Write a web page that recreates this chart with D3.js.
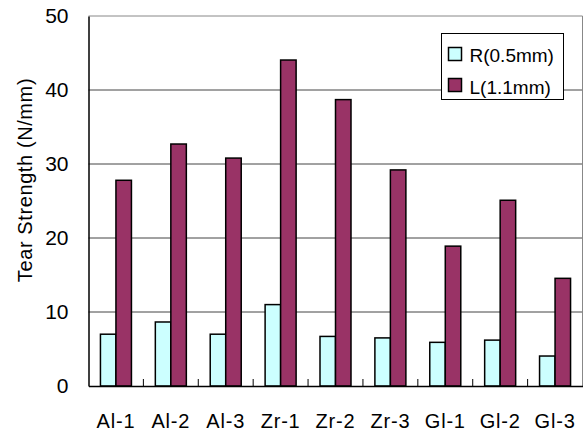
<!DOCTYPE html>
<html><head><meta charset="utf-8">
<script src="https://cdn.jsdelivr.net/npm/d3@7"></script>
<style>body{margin:0;background:#fff}svg{display:block}</style>
</head><body>
<script>
const categories = ["Al-1","Al-2","Al-3","Zr-1","Zr-2","Zr-3","Gl-1","Gl-2","Gl-3"];
const seriesNames = ["R(0.5mm)","L(1.1mm)"];
const valuesR = [7.0, 8.65, 7.0, 11.0, 6.7, 6.5, 5.9, 6.2, 4.05];
const valuesL = [27.8, 32.7, 30.8, 44.05, 38.7, 29.2, 18.9, 25.1, 14.55];
const yTicks = [0,10,20,30,40,50];
const colors = ["#CCFFFF","#993366"];

const W=586,H=433;
const m={left:88.5,top:16,right:3.5,bottom:47};
const svg=d3.select("body").append("svg").attr("width",W).attr("height",H);
const font="Liberation Sans, Arial, sans-serif";
const x=d3.scaleBand().domain(categories).range([m.left,W-m.right]);
const y=d3.scaleLinear().domain([0,50]).range([H-m.bottom,m.top]);

// gridlines
svg.append("g").selectAll("line").data(yTicks.filter(d=>d>0)).join("line")
  .attr("x1",m.left).attr("x2",W-m.right).attr("y1",d=>y(d)).attr("y2",d=>y(d))
  .attr("stroke",d=>d===50?"#888":"#444").attr("stroke-width",1);
// right border
svg.append("line").attr("x1",W-m.right).attr("x2",W-m.right).attr("y1",m.top).attr("y2",y(0))
  .attr("stroke","#888");

// bars
const bw=15.5;
const data=categories.map((c,i)=>({c,v:[valuesR[i],valuesL[i]]}));
const g=svg.append("g");
data.forEach(d=>{
  const cx=x(d.c)+x.bandwidth()/2;
  d.v.forEach((v,j)=>{
    g.append("rect").attr("x",cx-bw+j*bw).attr("y",y(v)).attr("width",bw).attr("height",y(0)-y(v))
      .attr("fill",colors[j]).attr("stroke","#000").attr("stroke-width",1.5);
  });
});

// axes
const yAxis=d3.axisLeft(y).tickValues(yTicks).tickSize(0).tickPadding(20);
const ya=svg.append("g").attr("transform",`translate(${m.left},0)`).call(yAxis);
ya.select(".domain").attr("stroke","#000").attr("stroke-width",1.5);
ya.selectAll("text").attr("font-family",font).attr("font-size",21).attr("fill","#000");

const xAxis=d3.axisBottom(x).tickSize(0).tickPadding(28);
const xa=svg.append("g").attr("transform",`translate(0,${y(0)})`).call(xAxis);
xa.select(".domain").attr("stroke","#000").attr("stroke-width",1.5);
xa.selectAll("text").attr("font-family",font).attr("font-size",20).attr("fill","#000")
  .attr("letter-spacing","0.8px");
// inward ticks at band boundaries
svg.append("g").selectAll("line").data(categories.slice(1)).join("line")
  .attr("x1",d=>x(d)).attr("x2",d=>x(d)).attr("y1",y(0)).attr("y2",y(0)-7)
  .attr("stroke","#000").attr("stroke-width",1);

// y title
svg.append("text").attr("transform",`translate(32,180) rotate(-90)`)
  .attr("text-anchor","middle").attr("font-family",font).attr("font-size",20)
  .attr("letter-spacing","0.6px").text("Tear Strength (N/mm)");

// legend
const lg=svg.append("g").attr("transform","translate(441.5,33.5)");
lg.append("rect").attr("width",122).attr("height",66).attr("fill","#fff").attr("stroke","#000").attr("stroke-width",1);
seriesNames.forEach((s,i)=>{
  lg.append("rect").attr("x",7).attr("y",14+i*31).attr("width",13).attr("height",13)
    .attr("fill",colors[i]).attr("stroke","#000").attr("stroke-width",1.5);
  lg.append("text").attr("x",28).attr("y",28.5+i*31.5).attr("font-family",font).attr("font-size",19).text(s);
});
</script>
</body></html>
